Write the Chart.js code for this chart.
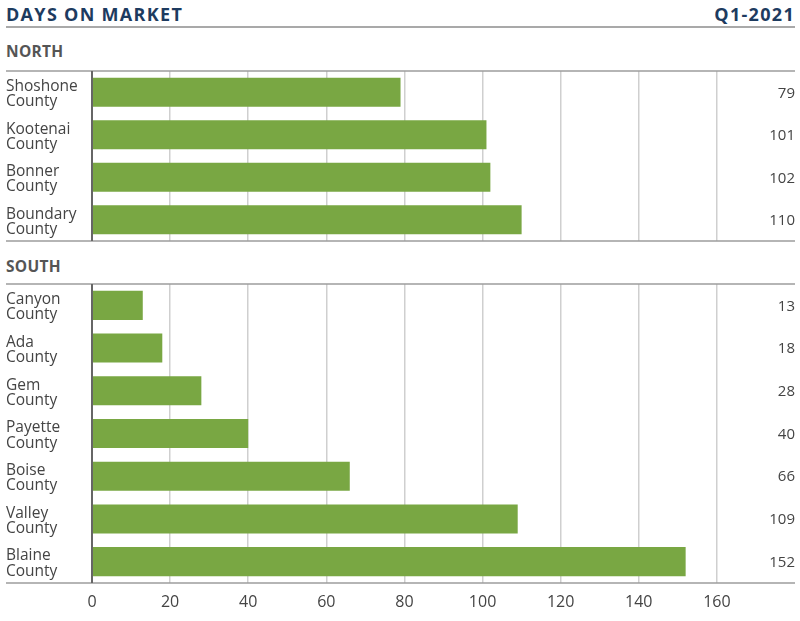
<!DOCTYPE html>
<html>
<head>
<meta charset="utf-8">
<script src="https://cdn.jsdelivr.net/npm/chart.js@4"></script>
<style>
  body { margin: 0; background: #fff; font-family: "Open Sans", sans-serif; }
  #wrap { position: relative; width: 800px; height: 621px; }
  .title { position: absolute; top: 2px; font-size: 18px; font-weight: 700; color: #1d3b5f; letter-spacing: 1.3px; }
  .rule { position: absolute; left: 6px; width: 789px; height: 2px; background: #a9a9a9; }
  .section { position: absolute; left: 6px; font-size: 15.5px; font-weight: 700; color: #555; letter-spacing: 0.3px; }
  canvas { position: absolute; left: 0; }
</style>
</head>
<body>
<div id="wrap">
  <div class="title" style="left:6px">DAYS ON MARKET</div>
  <div class="title" style="right:5px">Q1-2021</div>
  <div class="rule" style="top:26px"></div>
  <div class="section" style="top:40px">NORTH</div>
  <canvas id="northChart" width="800" height="173" style="top:70px"></canvas>
  <div class="section" style="top:255px">SOUTH</div>
  <canvas id="southChart" width="800" height="338" style="top:283px"></canvas>
</div>
<script>
  // Данные
  const northLabels = ["Shoshone County", "Kootenai County", "Bonner County", "Boundary County"];
  const northValues = [79, 101, 102, 110];
  const southLabels = ["Canyon County", "Ada County", "Gem County", "Payette County", "Boise County", "Valley County", "Blaine County"];
  const southValues = [13, 18, 28, 40, 66, 109, 152];
  const xTicks = [0, 20, 40, 60, 80, 100, 120, 140, 160];
  const xMax = 180;

  const fontFamily = '"Open Sans", sans-serif';
  const barColor = "#79a743";

  // Горизонтальные линии и значения справа
  const extrasPlugin = {
    id: "extras",
    afterDraw(chart) {
      const { ctx, chartArea } = chart;
      ctx.save();
      ctx.strokeStyle = "#9c9c9c";
      ctx.lineWidth = 1.5;
      [chartArea.top, chartArea.bottom].forEach((y) => {
        ctx.beginPath();
        ctx.moveTo(6, y);
        ctx.lineTo(795, y);
        ctx.stroke();
      });
      ctx.strokeStyle = "#666";
      ctx.lineWidth = 2;
      ctx.beginPath();
      ctx.moveTo(chartArea.left, chartArea.top);
      ctx.lineTo(chartArea.left, chartArea.bottom);
      ctx.stroke();
      ctx.font = "15px " + fontFamily;
      ctx.fillStyle = "#444";
      ctx.textAlign = "right";
      ctx.textBaseline = "middle";
      const meta = chart.getDatasetMeta(0);
      meta.data.forEach((bar, i) => {
        ctx.fillText(String(chart.data.datasets[0].data[i]), chartArea.right, bar.y + 1);
      });
      ctx.restore();
    },
  };

  function createChart(id, labels, values, showTicks) {
    const ctx = document.getElementById(id).getContext("2d");
    return new Chart(ctx, {
      type: "bar",
      data: {
        labels: labels.map((l) => l.split(" ")),
        datasets: [
          {
            data: values,
            backgroundColor: barColor,
            barPercentage: 0.68,
            categoryPercentage: 1,
          },
        ],
      },
      options: {
        indexAxis: "y",
        responsive: false,
        animation: false,
        layout: { padding: { left: 6, right: 5, top: 1, bottom: showTicks ? 0 : 2 } },
        plugins: { legend: { display: false }, tooltip: { enabled: false } },
        scales: {
          x: {
            min: 0,
            max: xMax,
            afterBuildTicks(scale) {
              scale.ticks = xTicks.map((v) => ({ value: v }));
            },
            grid: {
              drawTicks: false,
              color: (c) => (c.tick && c.tick.value === 0 ? "rgba(0,0,0,0)" : "#cfcfcf"),
              lineWidth: 1.5,
            },
            border: { display: false },
            ticks: {
              display: showTicks,
              padding: 10,
              color: "#444",
              font: { family: fontFamily, size: 16 },
            },
            afterFit(scale) {
              if (showTicks) scale.height = 38;
              scale.paddingLeft = 0;
              scale.paddingRight = 0;
            },
          },
          y: {
            grid: { display: false },
            border: { display: false },
            ticks: {
              crossAlign: "far",
              labelOffset: 2,
              color: "#444",
              font: { family: fontFamily, size: 15.5, lineHeight: 0.98 },
            },
            afterFit(scale) {
              scale.width = 86;
              scale.paddingTop = 0;
              scale.paddingBottom = 0;
            },
          },
        },
      },
      plugins: [extrasPlugin],
    });
  }

  createChart("northChart", northLabels, northValues, false);
  createChart("southChart", southLabels, southValues, true);
</script>
</body>
</html>
